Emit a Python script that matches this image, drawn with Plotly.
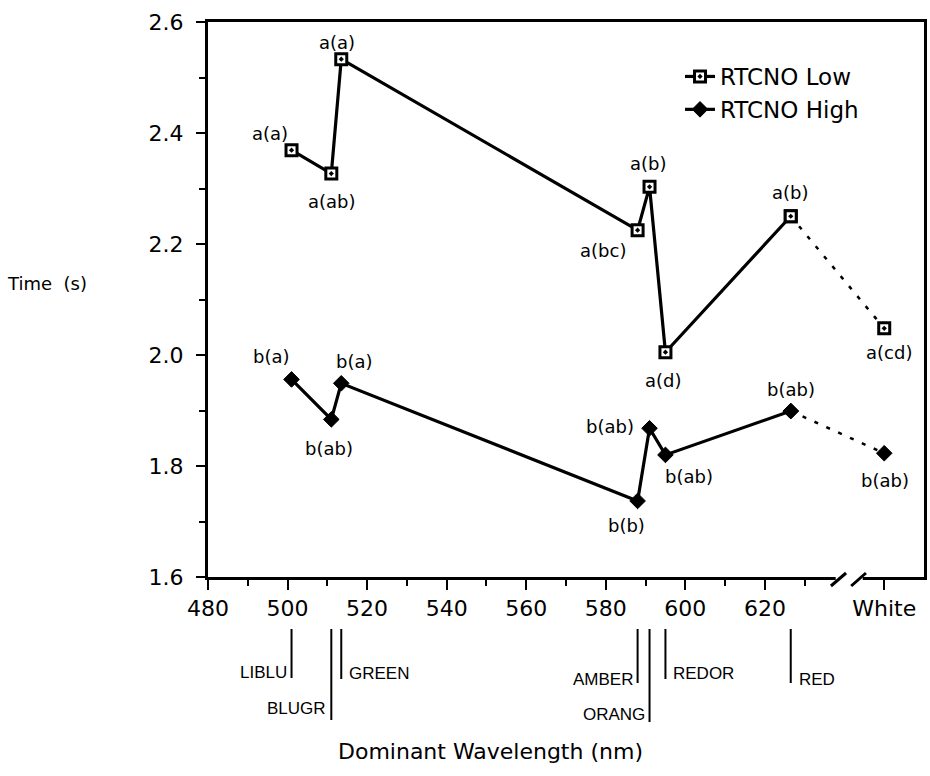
import plotly.graph_objects as go

# ---- data -------------------------------------------------------------
wavelength_nm = [501, 511, 513.5, 588, 591, 595, 626.5]
color_names = ["LIBLU", "BLUGR", "GREEN", "AMBER", "ORANG", "REDOR", "RED"]

low_time = [2.369, 2.327, 2.533, 2.225, 2.303, 2.005, 2.250]
low_white_time = 2.048
low_letters = ["a(a)", "a(ab)", "a(a)", "a(bc)", "a(b)", "a(d)", "a(b)"]
low_white_letters = "a(cd)"

high_time = [1.956, 1.884, 1.949, 1.737, 1.868, 1.820, 1.899]
high_white_time = 1.823
high_letters = ["b(a)", "b(ab)", "b(a)", "b(b)", "b(ab)", "b(ab)", "b(ab)"]
high_white_letters = "b(ab)"

x_tick_values = [480, 500, 520, 540, 560, 580, 600, 620]
x_minor_values = [490, 510, 530, 550, 570, 590, 610, 630]
y_tick_values = [1.6, 1.8, 2.0, 2.2, 2.4, 2.6]
y_minor_values = [1.7, 1.9, 2.1, 2.3, 2.5]
white_label = "White"

# ---- layout constants ---------------------------------------------------
W, H = 930, 776
M_L, M_R, M_T, M_B = 208, 3, 22, 199
WHITE_X = 650          # axis position of the non-spectral "White" category
X_RANGE = [480, 660]
Y_RANGE = [1.6, 2.6]

FONT = "DejaVu Sans"
BLACK = "black"


def paper_y(py):
    """Convert a pixel row of the page to a paper y fraction."""
    return (H - M_B - py) / (H - M_T - M_B)


def paper_x(px):
    return (px - M_L) / (W - M_L - M_R)


fig = go.Figure()

LOW_MARKER = dict(symbol="square-dot", size=11, color="white",
                  line=dict(color=BLACK, width=3))
HIGH_MARKER = dict(symbol="diamond", size=12, color=BLACK,
                   line=dict(color=BLACK, width=1))

# dotted links from the last spectral point to White
for times, white_t, mk in [
    (low_time, low_white_time, LOW_MARKER),
    (high_time, high_white_time, HIGH_MARKER),
]:
    fig.add_trace(go.Scatter(
        x=[wavelength_nm[-1], WHITE_X], y=[times[-1], white_t],
        mode="lines+markers", showlegend=False, hoverinfo="skip",
        line=dict(color=BLACK, width=2.5, dash="4px,9px"),
        marker=mk, cliponaxis=False,
    ))

fig.add_trace(go.Scatter(
    x=wavelength_nm, y=low_time, name="RTCNO Low",
    mode="lines+markers",
    line=dict(color=BLACK, width=3.2),
    marker=LOW_MARKER, cliponaxis=False,
))
fig.add_trace(go.Scatter(
    x=wavelength_nm, y=high_time, name="RTCNO High",
    mode="lines+markers",
    line=dict(color=BLACK, width=3.2),
    marker=HIGH_MARKER, cliponaxis=False,
))

annotations = []

# significance letters next to each point (pixel shifts: right, up)
low_shift = [(-22, 17), (1, -28), (-4, 17), (-35, -20), (-1, 23), (-2, -28), (0, 24)]
high_shift = [(-20, 23), (-2, -29), (13, 22), (-11, -25), (-40, 2), (24, -22), (0, 22)]
for xs, ys, texts, shifts in [
    (wavelength_nm + [WHITE_X], low_time + [low_white_time],
     low_letters + [low_white_letters], low_shift + [(5, -24)]),
    (wavelength_nm + [WHITE_X], high_time + [high_white_time],
     high_letters + [high_white_letters], high_shift + [(1, -27)]),
]:
    for x, y, t, (dx, dy) in zip(xs, ys, texts, shifts):
        annotations.append(dict(
            x=x, y=y, xref="x", yref="y", text=t, showarrow=False,
            xanchor="center", yanchor="middle",
            xshift=dx, yshift=dy, font=dict(family=FONT, size=18, color=BLACK),
        ))

# colour-name markers under the wavelength axis
marker_bottom = [678, 720, 679, 683, 722, 679, 683]
label_row = [672, 708, 673, 680, 714, 673, 680]
label_side = ["left", "left", "right", "left", "left", "right", "right"]
shapes = []
for wl, name, yb, yl, side in zip(wavelength_nm, color_names,
                                  marker_bottom, label_row, label_side):
    shapes.append(dict(type="line", xref="x", yref="paper",
                       x0=wl, x1=wl, y0=paper_y(629), y1=paper_y(yb),
                       line=dict(color=BLACK, width=2)))
    annotations.append(dict(
        x=wl, y=paper_y(yl), xref="x", yref="paper", text=name,
        showarrow=False, xanchor="right" if side == "left" else "left",
        xshift=-3 if side == "left" else 6, yanchor="middle",
        font=dict(family="Liberation Sans", size=17, color=BLACK),
    ))

# axis break between 620 and White
shapes.append(dict(type="rect", xref="x", yref="paper", x0=637.8, x1=644.6,
                   y0=-0.01, y1=0.01, fillcolor="white", line=dict(width=0),
                   layer="above"))
for xa, xb in [(636.6, 640.4), (641.7, 645.4)]:
    shapes.append(dict(type="line", xref="x", yref="paper", x0=xa, x1=xb,
                       y0=paper_y(586), y1=paper_y(573),
                       line=dict(color=BLACK, width=3), layer="above"))

# axis titles
annotations.append(dict(x=paper_x(46), y=paper_y(283), xref="paper", yref="paper",
                        text="Time  (s)", showarrow=False,
                        xanchor="center", yanchor="middle",
                        font=dict(family=FONT, size=18, color=BLACK)))
annotations.append(dict(x=paper_x(492), y=paper_y(752), xref="paper", yref="paper",
                        text="Dominant Wavelength (nm)", showarrow=False,
                        xanchor="center", yanchor="middle",
                        font=dict(family=FONT, size=22, color=BLACK)))

fig.update_layout(
    width=W, height=H,
    margin=dict(l=M_L, r=M_R, t=M_T, b=M_B),
    paper_bgcolor="white", plot_bgcolor="white",
    showlegend=True,
    legend=dict(x=paper_x(682), y=paper_y(55), xanchor="left", yanchor="top",
                bgcolor="rgba(0,0,0,0)", borderwidth=0,
                font=dict(family=FONT, size=23, color=BLACK),
                itemwidth=30, tracegroupgap=0),
    shapes=shapes,
    annotations=annotations,
)

fig.update_xaxes(
    range=X_RANGE, showgrid=False, zeroline=False,
    showline=True, linecolor=BLACK, linewidth=3, mirror=True,
    ticks="outside", ticklen=10, tickwidth=2, tickcolor=BLACK,
    tickmode="array", tickvals=x_tick_values + [WHITE_X],
    ticktext=[str(v) for v in x_tick_values] + [white_label],
    tickfont=dict(family=FONT, size=22, color=BLACK),
    minor=dict(tickmode="array", tickvals=x_minor_values, ticks="outside",
               ticklen=6, tickwidth=2, tickcolor=BLACK, showgrid=False),
)
fig.update_yaxes(
    range=Y_RANGE, showgrid=False, zeroline=False,
    showline=True, linecolor=BLACK, linewidth=3, mirror=True,
    ticks="outside", ticklen=9, tickwidth=2, tickcolor=BLACK,
    tickmode="array", tickvals=y_tick_values,
    ticktext=[f"{v:.1f}" for v in y_tick_values],
    tickfont=dict(family=FONT, size=22, color=BLACK),
    ticklabelstandoff=8,
    minor=dict(tickmode="array", tickvals=y_minor_values, ticks="outside",
               ticklen=6, tickwidth=2, tickcolor=BLACK, showgrid=False),
)

fig.write_html("out.html")
